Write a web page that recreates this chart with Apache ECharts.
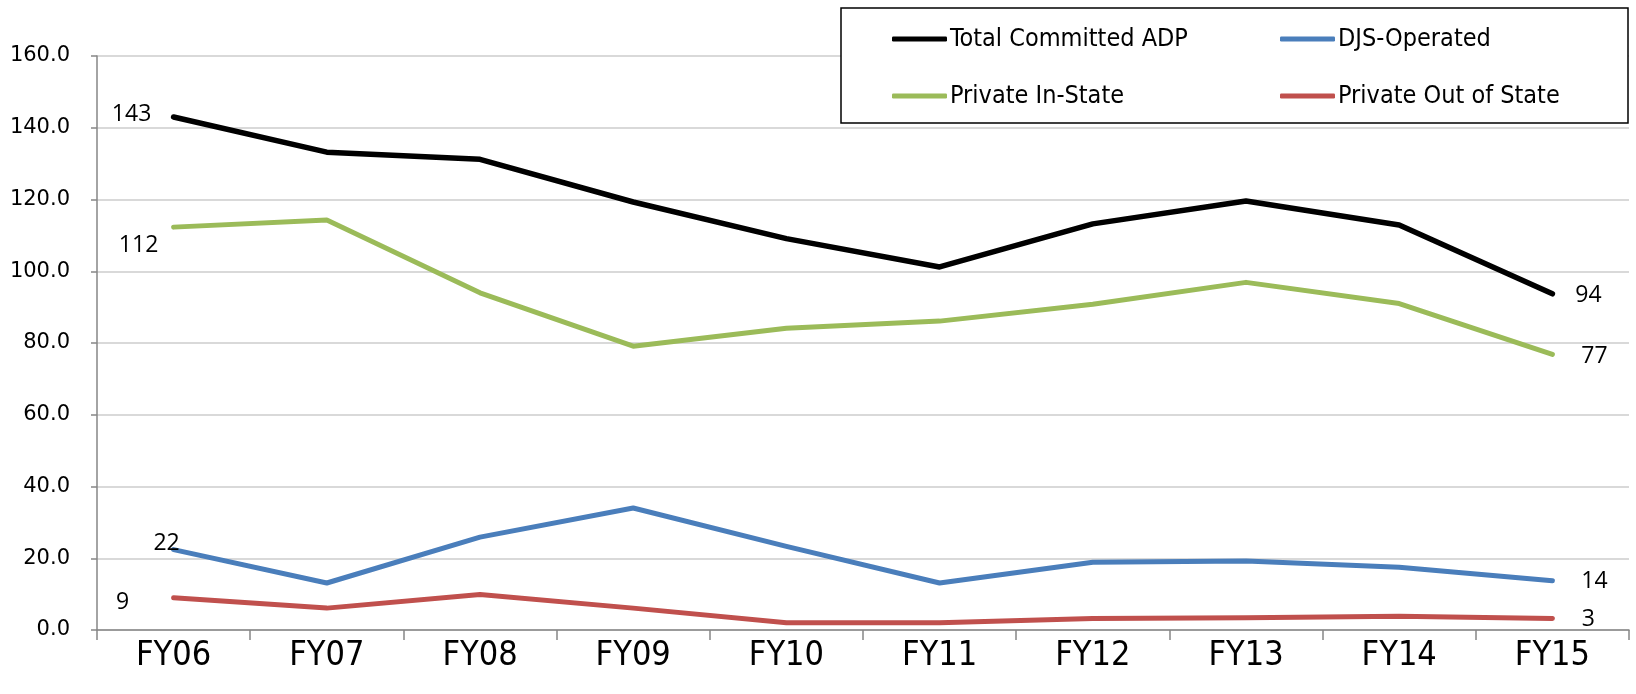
<!DOCTYPE html>
<html>
<head>
<meta charset="utf-8">
<script src="https://cdn.jsdelivr.net/npm/echarts@6/dist/echarts.min.js"></script>
<style>
html,body{margin:0;padding:0;background:#fff;}
#chart{width:1636px;height:694px;}
</style>
</head>
<body>
<div id="chart"></div>
<script>
const categories = ['FY06','FY07','FY08','FY09','FY10','FY11','FY12','FY13','FY14','FY15'];
const seriesNames = ['Total Committed ADP','DJS-Operated','Private In-State','Private Out of State'];
const totalCommitted = [143, 133.2, 131.2, 119.3, 109.1, 101.2, 113.2, 119.6, 112.9, 93.7];
const djsOperated = [22.4, 13.1, 25.9, 34.0, 23.3, 13.1, 18.9, 19.2, 17.5, 13.7];
const privateInState = [112.3, 114.3, 94.0, 79.1, 84.1, 86.1, 90.8, 96.9, 91.0, 76.8];
const privateOutOfState = [9.0, 6.1, 9.9, 6.1, 2.0, 2.0, 3.2, 3.4, 3.8, 3.2];
const yTicks = [0, 20, 40, 60, 80, 100, 120, 140, 160];

const colors = ['#000000', '#4a7ebb', '#9bbb59', '#c0504d'];
const narrow = "'Liberation Sans Narrow', 'DejaVu Sans Condensed', 'Open Sans', sans-serif";
const labelFont = "'Open Sans', sans-serif";

const labelOffsets = [
  { first: [-42, -3], last: [36, 2] },
  { first: [-7, -6], last: [42, 1] },
  { first: [-35, 18], last: [42, 2] },
  { first: [-51, 5], last: [36, 1] }
];

function buildData(values, idx) {
  return values.map((v, i) => {
    const item = { value: v };
    if (i === 0 || i === values.length - 1) {
      item.label = {
        show: true,
        position: 'inside',
        offset: i === 0 ? labelOffsets[idx].first : labelOffsets[idx].last,
        formatter: p => String(Math.round(p.value)),
        color: '#000',
        fontSize: 23,
        fontFamily: labelFont
      };
    }
    return item;
  });
}

const allValues = [totalCommitted, djsOperated, privateInState, privateOutOfState];
const widths = [5.5, 5, 5, 5];

const series = allValues.map((vals, idx) => ({
  name: seriesNames[idx],
  type: 'line',
  data: buildData(vals, idx),
  symbol: 'circle',
  symbolSize: 1,
  showSymbol: true,
  itemStyle: { color: colors[idx] },
  lineStyle: { color: colors[idx], width: widths[idx], cap: 'round', join: 'round' },
  label: { show: false },
  emphasis: { disabled: true },
  z: 3 + (3 - idx),
  animation: false
}));

const legendPos = [
  { left: 892, top: 25 },
  { left: 1280, top: 25 },
  { left: 892, top: 82 },
  { left: 1280, top: 82 }
];

const legends = seriesNames.map((n, i) => ({
  data: [n],
  left: legendPos[i].left,
  top: legendPos[i].top,
  padding: 0,
  icon: 'roundRect',
  itemWidth: 55,
  itemHeight: 5,
  itemGap: 0,
  selectedMode: false,
  z: 10,
  textStyle: { fontSize: 25, fontFamily: narrow, color: '#000', lineHeight: 28, padding: [0, 0, 0, -2] }
}));

const chart = echarts.init(document.getElementById('chart'), null, { renderer: 'canvas' });
chart.setOption({
  animation: false,
  backgroundColor: '#fff',
  color: colors,
  grid: { left: 97, right: 7, top: 56, bottom: 64, containLabel: false },
  legend: legends,
  graphic: [{
    type: 'rect',
    z: 5,
    shape: { x: 841, y: 8, width: 787, height: 115 },
    style: { fill: '#fff', stroke: '#000', lineWidth: 1.5 }
  }],
  xAxis: {
    type: 'category',
    data: categories,
    boundaryGap: true,
    axisLine: { lineStyle: { color: '#868686', width: 1.5 } },
    axisTick: { show: true, length: 10, inside: false, lineStyle: { color: '#868686', width: 1.5 } },
    axisLabel: { fontSize: 34, fontFamily: narrow, color: '#000', margin: 9 },
    splitLine: { show: false }
  },
  yAxis: {
    type: 'value',
    min: yTicks[0],
    max: yTicks[yTicks.length - 1],
    interval: yTicks[1] - yTicks[0],
    axisLine: { show: true, lineStyle: { color: '#868686', width: 1.5 } },
    axisTick: { show: true, length: 6, lineStyle: { color: '#868686', width: 1.5 } },
    axisLabel: { fontSize: 21, fontFamily: "'DejaVu Sans', sans-serif", color: '#000', margin: 27, formatter: v => v.toFixed(1) },
    splitLine: { show: true, lineStyle: { color: '#d9d9d9', width: 2 } }
  },
  series: series
});
</script>
</body>
</html>
